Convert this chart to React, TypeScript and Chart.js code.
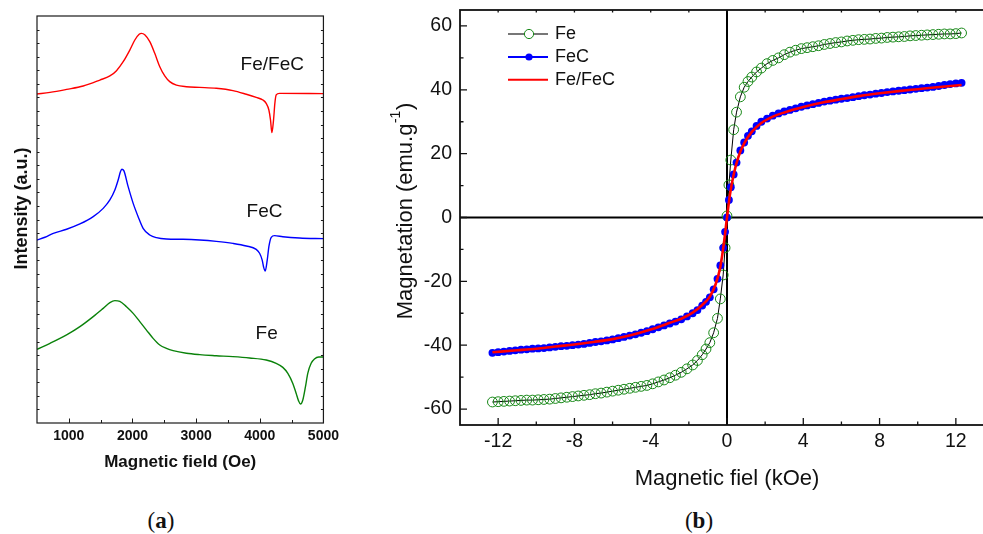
import React, { useEffect, useRef } from "react";
import { Chart, registerables } from "chart.js";
Chart.register(...registerables);

// ---------- Panel (a): EPR spectra ----------
const redField = [500, 704, 965, 1226, 1488, 1645, 1749, 1854, 1958, 2037, 2105, 2141, 2193, 2272, 2350, 2429, 2507, 2585, 2690, 2847, 3056, 3317, 3578, 3788, 3944, 4049, 4101, 4143, 4169, 4190, 4216, 4237, 4258, 4310, 5000];
const redIntensity = [24.25, 24.37, 24.59, 24.84, 25.28, 25.58, 25.97, 26.63, 27.49, 28.23, 28.65, 28.72, 28.62, 28.11, 27.25, 26.26, 25.58, 25.16, 24.91, 24.79, 24.74, 24.67, 24.5, 24.23, 24.0, 23.81, 23.56, 23.07, 22.33, 21.4, 22.33, 23.56, 24.18, 24.3, 24.28];

const blueField = [500, 625, 756, 965, 1174, 1383, 1540, 1645, 1723, 1775, 1812, 1833, 1864, 1932, 2011, 2089, 2167, 2272, 2376, 2533, 2794, 3056, 3317, 3578, 3788, 3944, 3997, 4038, 4059, 4085, 4117, 4143, 4180, 4232, 4362, 4624, 5000];
const blueIntensity = [13.49, 13.69, 13.98, 14.28, 14.67, 15.21, 15.82, 16.44, 17.17, 17.91, 18.53, 18.7, 18.6, 17.42, 16.19, 15.21, 14.35, 13.86, 13.66, 13.56, 13.54, 13.49, 13.39, 13.24, 13.05, 12.8, 12.51, 12.01, 11.52, 11.2, 12.01, 13.0, 13.69, 13.81, 13.73, 13.64, 13.59];

const greenField = [500, 704, 965, 1174, 1383, 1540, 1645, 1723, 1801, 1906, 2011, 2115, 2220, 2324, 2429, 2533, 2638, 2847, 3056, 3317, 3578, 3840, 4101, 4258, 4362, 4441, 4519, 4571, 4608, 4640, 4676, 4718, 4754, 4807, 4859, 4927, 5000];
const greenIntensity = [5.43, 5.87, 6.49, 7.1, 7.84, 8.45, 8.87, 9.02, 8.97, 8.57, 8.08, 7.47, 6.85, 6.24, 5.75, 5.5, 5.33, 5.14, 5.04, 4.96, 4.89, 4.79, 4.64, 4.4, 4.1, 3.66, 2.92, 2.19, 1.65, 1.4, 1.7, 2.68, 3.66, 4.4, 4.72, 4.86, 4.86];

const aCurveLabels = ["Fe/FeC", "FeC", "Fe"];
const aLabelField = [3699, 3793, 3934];
const aLabelLevel = [26.42, 15.57, 6.56];

const aXTicks = [1000, 2000, 3000, 4000, 5000];
const aXMinorTicks = [1500, 2500, 3500, 4500];
const aYTicks = [1, 2, 3, 4, 5, 6, 7, 8, 9, 10, 11, 12, 13, 14, 15, 16, 17, 18, 19, 20, 21, 22, 23, 24, 25, 26, 27, 28, 29];

// ---------- Panel (b): hysteresis loops ----------
const hField = [-12.3, -12.0, -11.7, -11.4, -11.1, -10.8, -10.5, -10.2, -9.9, -9.6, -9.3, -9.0, -8.7, -8.4, -8.1, -7.8, -7.5, -7.2, -6.9, -6.6, -6.3, -6.0, -5.7, -5.4, -5.1, -4.8, -4.5, -4.2, -3.9, -3.6, -3.3, -3.0, -2.7, -2.4, -2.1, -1.8, -1.55, -1.3, -1.1, -0.9, -0.7, -0.5, -0.35, -0.2, -0.1, 0, 0.1, 0.2, 0.35, 0.5, 0.7, 0.9, 1.1, 1.3, 1.55, 1.8, 2.1, 2.4, 2.7, 3.0, 3.3, 3.6, 3.9, 4.2, 4.5, 4.8, 5.1, 5.4, 5.7, 6.0, 6.3, 6.6, 6.9, 7.2, 7.5, 7.8, 8.1, 8.4, 8.7, 9.0, 9.3, 9.6, 9.9, 10.2, 10.5, 10.8, 11.1, 11.4, 11.7, 12.0, 12.3];
const feM = [-57.8, -57.7, -57.6, -57.5, -57.4, -57.3, -57.2, -57.2, -57.1, -57.0, -56.9, -56.7, -56.5, -56.3, -56.1, -55.9, -55.7, -55.5, -55.2, -55.0, -54.7, -54.4, -54.1, -53.8, -53.5, -53.2, -52.9, -52.6, -52.1, -51.5, -50.9, -50.2, -49.4, -48.5, -47.4, -46.2, -44.8, -43.0, -41.2, -39.2, -36.1, -31.6, -25.5, -18.0, -9.5, 0.5, 10.2, 18.0, 27.5, 33.0, 37.8, 40.8, 42.6, 44.0, 45.6, 46.8, 48.2, 49.2, 50.0, 51.0, 51.8, 52.4, 52.9, 53.2, 53.5, 53.8, 54.2, 54.5, 54.8, 55.0, 55.3, 55.5, 55.7, 55.8, 55.9, 56.1, 56.2, 56.4, 56.5, 56.6, 56.7, 56.9, 57.0, 57.1, 57.2, 57.3, 57.4, 57.5, 57.5, 57.6, 57.8];
const fecM = [-42.4, -42.2, -42.0, -41.8, -41.6, -41.4, -41.3, -41.1, -41.0, -40.9, -40.7, -40.5, -40.3, -40.2, -40.0, -39.8, -39.6, -39.3, -39.0, -38.8, -38.5, -38.2, -37.8, -37.4, -37.0, -36.6, -36.1, -35.6, -35.0, -34.4, -33.8, -33.2, -32.6, -31.9, -31.0, -30.0, -29.0, -27.6, -26.4, -25.0, -22.5, -19.2, -15.0, -9.5, -4.5, 0, 5.5, 9.5, 13.5, 17.2, 21.0, 23.5, 25.6, 27.0, 28.7, 30.0, 31.0, 31.9, 32.6, 33.2, 33.7, 34.2, 34.7, 35.1, 35.5, 35.9, 36.3, 36.6, 36.9, 37.2, 37.4, 37.7, 38.0, 38.3, 38.5, 38.8, 39.0, 39.3, 39.5, 39.7, 39.9, 40.1, 40.3, 40.5, 40.7, 40.9, 41.2, 41.5, 41.8, 42.0, 42.2];
const fefecField = [-12.3, -11, -10, -9, -8, -7, -6, -5, -4, -3, -2.4, -1.8, -1.3, -0.9, -0.6, -0.35, -0.15, 0, 0.15, 0.35, 0.6, 0.9, 1.3, 1.8, 2.4, 3, 4, 5, 6, 7, 8, 9, 10, 11, 12.3];
const fefecM = [-42.2, -41.6, -41.1, -40.4, -39.8, -39.0, -38.1, -36.8, -35.1, -33.0, -31.7, -29.8, -27.4, -24.8, -21.0, -15.5, -7.5, 0, 7.0, 13.5, 19.0, 23.2, 26.8, 29.6, 31.6, 32.9, 34.6, 36.0, 37.1, 38.1, 38.9, 39.6, 40.2, 40.8, 41.5];

const bSeriesNames = ["Fe", "FeC", "Fe/FeC"];
const bXTicks = [-12, -8, -4, 0, 4, 8, 12];
const bXMinorTicks = [-10, -6, -2, 2, 6, 10];
const bYTicks = [-60, -40, -20, 0, 20, 40, 60];
const bYMinorTicks = [-50, -30, -10, 10, 30, 50];

const SANS = '"Liberation Sans", Arial, sans-serif';
const GREEN = "rgb(22,135,22)";

const toXY = (xs: number[], ys: number[]) => xs.map((x, i) => ({ x, y: ys[i] }));

const noPad = (s: any) => {
  s.paddingTop = 0;
  s.paddingBottom = 0;
  s.paddingLeft = 0;
  s.paddingRight = 0;
};

export default function App() {
  const refA = useRef<HTMLCanvasElement>(null);
  const refB = useRef<HTMLCanvasElement>(null);

  useEffect(() => {
    const frameA = {
      id: "frameA",
      afterDraw(chart: any) {
        const { ctx, chartArea } = chart;
        const { left, right, top, bottom } = chartArea;
        const x = chart.scales.x;
        const y = chart.scales.y;
        ctx.save();
        ctx.strokeStyle = "#1a1a1a";
        ctx.lineWidth = 1.2;
        ctx.strokeRect(left, top, right - left, bottom - top);
        ctx.lineWidth = 1;
        ctx.beginPath();
        for (const v of aYTicks) {
          const py = Math.round(y.getPixelForValue(v)) + 0.5;
          ctx.moveTo(left, py); ctx.lineTo(left + 2.5, py);
          ctx.moveTo(right, py); ctx.lineTo(right - 2.5, py);
        }
        for (const v of aXTicks) {
          const px = Math.round(x.getPixelForValue(v)) + 0.5;
          ctx.moveTo(px, bottom); ctx.lineTo(px, bottom - 4.5);
        }
        for (const v of aXMinorTicks) {
          const px = Math.round(x.getPixelForValue(v)) + 0.5;
          ctx.moveTo(px, bottom); ctx.lineTo(px, bottom - 3);
        }
        ctx.stroke();
        // curve labels
        ctx.fillStyle = "#111";
        ctx.font = `19px ${SANS}`;
        ctx.textAlign = "left";
        ctx.textBaseline = "middle";
        aCurveLabels.forEach((t, i) => {
          ctx.fillText(t, x.getPixelForValue(aLabelField[i]), y.getPixelForValue(aLabelLevel[i]));
        });
        // y title
        ctx.translate(left - 14.5, (top + bottom) / 2 - 11);
        ctx.rotate(-Math.PI / 2);
        ctx.font = `bold 18px ${SANS}`;
        ctx.textAlign = "center";
        ctx.fillText("Intensity (a.u.)", 0, 0);
        ctx.restore();
      },
    };

    const chartA = new Chart(refA.current!, {
      type: "scatter",
      data: {
        datasets: [
          { label: "Fe/FeC", data: toXY(redField, redIntensity), showLine: true, borderColor: "#ff0000", borderWidth: 1.4, pointRadius: 0, cubicInterpolationMode: "monotone" },
          { label: "FeC", data: toXY(blueField, blueIntensity), showLine: true, borderColor: "#0000ff", borderWidth: 1.4, pointRadius: 0, cubicInterpolationMode: "monotone" },
          { label: "Fe", data: toXY(greenField, greenIntensity), showLine: true, borderColor: "rgb(10,130,10)", borderWidth: 1.4, pointRadius: 0, cubicInterpolationMode: "monotone" },
        ],
      } as any,
      options: {
        animation: false,
        responsive: false,
        events: [],
        layout: { padding: { top: 16, right: 20, left: 0, bottom: 0 } },
        plugins: { legend: { display: false }, tooltip: { enabled: false } },
        scales: {
          x: {
            type: "linear",
            min: 500,
            max: 5000,
            afterBuildTicks: (s: any) => { s.ticks = aXTicks.map((v) => ({ value: v })); },
            afterFit: (s: any) => { s.height = 51; },
            grid: { display: false, drawTicks: false },
            border: { display: false },
            ticks: { color: "#111", padding: 5, font: { family: SANS, size: 14, weight: "bold" }, callback: (v: any) => String(v), maxRotation: 0 },
            title: { display: true, text: "Magnetic field (Oe)", color: "#111", font: { family: SANS, size: 17, weight: "bold" }, padding: { top: 0, bottom: 1 } },
          },
          y: {
            type: "linear",
            min: 0,
            max: 30,
            afterFit: (s: any) => { s.width = 37; noPad(s); },
            grid: { display: false, drawTicks: false },
            border: { display: false },
            ticks: { display: false },
          },
        },
      } as any,
      plugins: [frameA],
    });

    const frameB = {
      id: "frameB",
      beforeDatasetsDraw(chart: any) {
        const { ctx, chartArea } = chart;
        const { left, right, top, bottom } = chartArea;
        const x = chart.scales.x;
        const y = chart.scales.y;
        ctx.save();
        ctx.strokeStyle = "#000";
        ctx.lineWidth = 2;
        ctx.beginPath();
        const y0 = y.getPixelForValue(0);
        const x0 = x.getPixelForValue(0);
        ctx.moveTo(left, y0); ctx.lineTo(right, y0);
        ctx.moveTo(x0, top); ctx.lineTo(x0, bottom);
        ctx.stroke();
        ctx.restore();
      },
      afterDraw(chart: any) {
        const { ctx, chartArea } = chart;
        const { left, right, top, bottom } = chartArea;
        const x = chart.scales.x;
        const y = chart.scales.y;
        ctx.save();
        ctx.strokeStyle = "#111";
        ctx.lineWidth = 1.8;
        ctx.strokeRect(left, top, right - left, bottom - top);
        ctx.lineWidth = 1.3;
        ctx.beginPath();
        for (const v of bXTicks) {
          const px = x.getPixelForValue(v);
          ctx.moveTo(px, bottom); ctx.lineTo(px, bottom - 7);
          ctx.moveTo(px, top); ctx.lineTo(px, top + 2.5);
        }
        for (const v of bXMinorTicks) {
          const px = x.getPixelForValue(v);
          ctx.moveTo(px, bottom); ctx.lineTo(px, bottom - 3.5);
          ctx.moveTo(px, top); ctx.lineTo(px, top + 2.5);
        }
        for (const v of bYTicks) {
          const py = y.getPixelForValue(v);
          ctx.moveTo(left, py); ctx.lineTo(left + 7, py);
        }
        for (const v of bYMinorTicks) {
          const py = y.getPixelForValue(v);
          ctx.moveTo(left, py); ctx.lineTo(left + 3.5, py);
        }
        ctx.stroke();

        // legend
        const rows = [top + 24, top + 47, top + 69.7];
        const lx0 = left + 48, lx1 = left + 88, mx = left + 69, tx = left + 95;
        const lineColors = ["#777", "#0000ff", "#ff0000"];
        ctx.font = `18px ${SANS}`;
        ctx.textAlign = "left";
        ctx.textBaseline = "middle";
        bSeriesNames.forEach((name, i) => {
          const ry = rows[i];
          ctx.strokeStyle = lineColors[i];
          ctx.lineWidth = 2;
          ctx.beginPath(); ctx.moveTo(lx0, ry); ctx.lineTo(lx1, ry); ctx.stroke();
          if (i === 0) {
            ctx.fillStyle = "#fff";
            ctx.strokeStyle = GREEN;
            ctx.lineWidth = 1;
            ctx.beginPath(); ctx.arc(mx, ry, 4.6, 0, Math.PI * 2); ctx.fill(); ctx.stroke();
          } else if (i === 1) {
            ctx.fillStyle = "#0000ff";
            ctx.beginPath(); ctx.arc(mx, ry, 3.6, 0, Math.PI * 2); ctx.fill();
          }
          ctx.fillStyle = "#111";
          ctx.fillText(name, tx, ry);
        });

        // y title with superscript
        ctx.translate(left - 55, (top + bottom) / 2 - 6.5);
        ctx.rotate(-Math.PI / 2);
        ctx.textBaseline = "alphabetic";
        ctx.textAlign = "left";
        const f1 = `22px ${SANS}`;
        const f2 = `14px ${SANS}`;
        const t1 = "Magnetation (emu.g", t2 = "-1", t3 = ")";
        ctx.font = f1;
        const w1 = ctx.measureText(t1).width;
        const w3 = ctx.measureText(t3).width;
        ctx.font = f2;
        const w2 = ctx.measureText(t2).width;
        let cx = -(w1 + w2 + w3 + 1) / 2;
        ctx.fillStyle = "#111";
        ctx.font = f1;
        ctx.fillText(t1, cx, 7);
        cx += w1 + 0.5;
        ctx.font = f2;
        ctx.fillText(t2, cx, -5);
        cx += w2 + 0.5;
        ctx.font = f1;
        ctx.fillText(t3, cx, 7);
        ctx.restore();
      },
    };

    const chartB = new Chart(refB.current!, {
      type: "scatter",
      data: {
        datasets: [
          { label: bSeriesNames[0], data: toXY(hField, feM), showLine: true, borderColor: "#000", borderWidth: 1, pointRadius: 4.9, pointBorderWidth: 1, pointBorderColor: GREEN, pointBackgroundColor: "rgba(255,255,255,0)", order: 3 },
          { label: bSeriesNames[1], data: toXY(hField, fecM), showLine: true, borderColor: "#0000ff", borderWidth: 1, pointRadius: 3.9, pointBorderWidth: 0, pointBackgroundColor: "#0000ff", pointBorderColor: "#0000ff", order: 2 },
          { label: bSeriesNames[2], data: toXY(fefecField, fefecM), showLine: true, borderColor: "#ff0000", borderWidth: 2.6, pointRadius: 0, cubicInterpolationMode: "monotone", order: 1 },
        ],
      } as any,
      options: {
        animation: false,
        responsive: false,
        events: [],
        layout: { padding: { top: 10, right: 16, left: 0, bottom: 0 } },
        plugins: { legend: { display: false }, tooltip: { enabled: false } },
        scales: {
          x: {
            type: "linear",
            min: -14,
            max: 14,
            afterBuildTicks: (s: any) => { s.ticks = bXTicks.map((v) => ({ value: v })); },
            afterFit: (s: any) => { s.height = 75; noPad(s); },
            grid: { display: false, drawTicks: false },
            border: { display: false },
            ticks: { color: "#111", padding: 5, font: { family: SANS, size: 19.5 }, callback: (v: any) => String(v), maxRotation: 0, autoSkip: false },
            title: { display: true, text: "Magnetic fiel (kOe)", color: "#111", font: { family: SANS, size: 22 }, padding: { top: 0, bottom: 8 } },
          },
          y: {
            type: "linear",
            min: -65,
            max: 65,
            afterBuildTicks: (s: any) => { s.ticks = bYTicks.map((v) => ({ value: v })); },
            afterFit: (s: any) => { s.width = 80; noPad(s); },
            grid: { display: false, drawTicks: false },
            border: { display: false },
            ticks: { color: "#111", padding: 8, font: { family: SANS, size: 19.5 }, callback: (v: any) => String(v) },
          },
        },
      } as any,
      plugins: [frameB],
    });

    return () => {
      chartA.destroy();
      chartB.destroy();
    };
  }, []);

  const panelLabel: React.CSSProperties = {
    position: "absolute",
    top: 508,
    width: 60,
    textAlign: "center",
    fontFamily: '"Liberation Serif", "DejaVu Serif", serif',
    fontSize: 23,
    lineHeight: "26px",
    color: "#111",
  };

  return (
    <div style={{ position: "fixed", left: 0, top: 0, width: 983, height: 534, overflow: "hidden", background: "#fff" }}>
      <canvas ref={refA} width={344} height={474} style={{ position: "absolute", left: 0, top: 0, width: 344, height: 474 }} />
      <canvas ref={refB} width={630} height={500} style={{ position: "absolute", left: 380, top: 0, width: 630, height: 500 }} />
      <div style={{ ...panelLabel, left: 131 }}>(<b>a</b>)</div>
      <div style={{ ...panelLabel, left: 669 }}>(<b>b</b>)</div>
    </div>
  );
}
